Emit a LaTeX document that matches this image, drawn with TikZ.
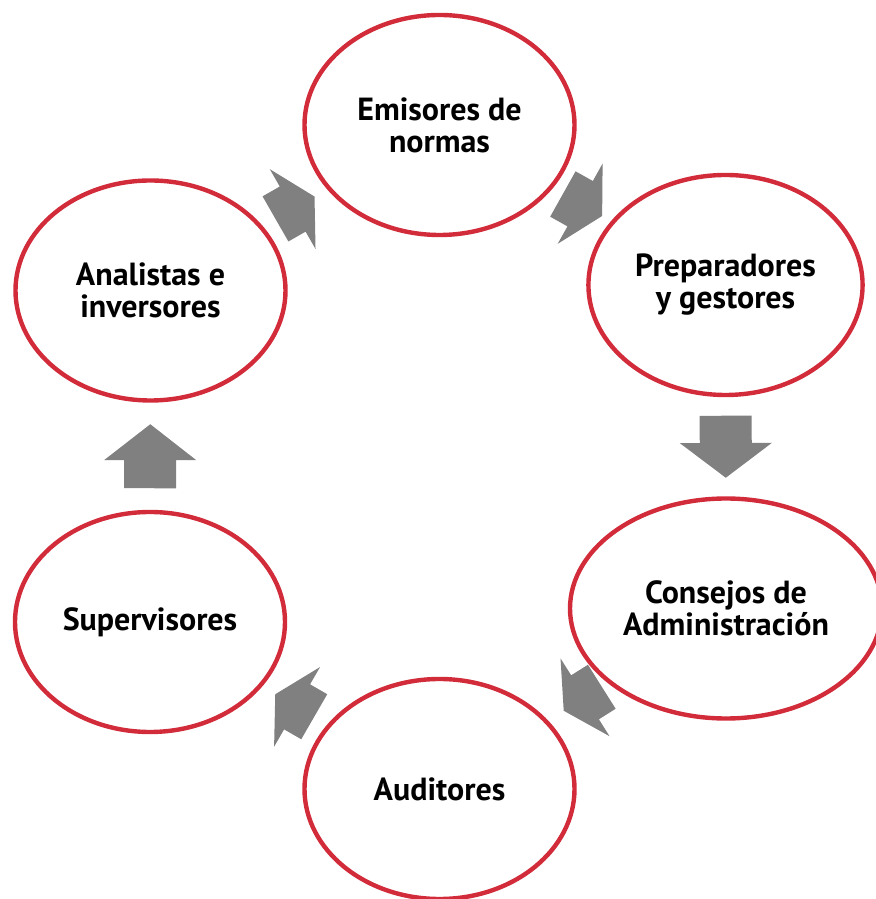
\documentclass[tikz,border=0pt]{standalone}
\usepackage{fontspec}
\setmainfont{PT Sans}
\usetikzlibrary{shapes.geometric, calc}

\definecolor{ringred}{RGB}{210,43,58}
\definecolor{arrowgray}{RGB}{128,128,128}

\begin{document}
\begin{tikzpicture}[
        x=0.5pt, y=0.5pt,
        % Define styles for the actors and the block arrows
        actor/.style={ellipse, draw=ringred, line width=2.2pt, minimum width=135pt, minimum height=110pt, align=center, font=\fontsize{16}{16}\selectfont\bfseries},
        wideactor/.style={actor, minimum width=156pt},
        pics/flowarrow/.style={code={
            \fill[arrowgray] (-0.5*#1,-26) -- (-0.06*#1,-26) -- (-0.06*#1,-46) -- (0.5*#1,0)
                -- (-0.06*#1,46) -- (-0.06*#1,26) -- (-0.5*#1,26) -- cycle;
        }}
    ]
    \useasboundingbox (0,0) rectangle (876,899);

    % --- Nodes ---
    \node [actor] (emi) at (439.5,774) {Emisores de\\normas};
    \node [actor] (prep) at (725.5,614) {Preparadores\\y gestores};
    \node [wideactor] (cons) at (726,290.5) {Consejos de\\Administración};
    \node [actor] (aud) at (439.5,110) {Auditores};
    \node [actor] (sup) at (150,277) {Supervisores};
    \node [actor] (ana) at (150.5,608.5) {Analistas e\\inversores};

    % --- Block arrows (clockwise cycle) ---
    \foreach \from/\to/\len in {emi/prep/45, prep/cons/62, cons/aud/45, aud/sup/45, sup/ana/64, ana/emi/45}
        \path let \p1 = ($(\to)-(\from)$), \n1 = {atan2(\y1,\x1)} in
            ($(\from)!0.5!(\to)$) pic [rotate=\n1] {flowarrow=\len};

\end{tikzpicture}
\end{document}
